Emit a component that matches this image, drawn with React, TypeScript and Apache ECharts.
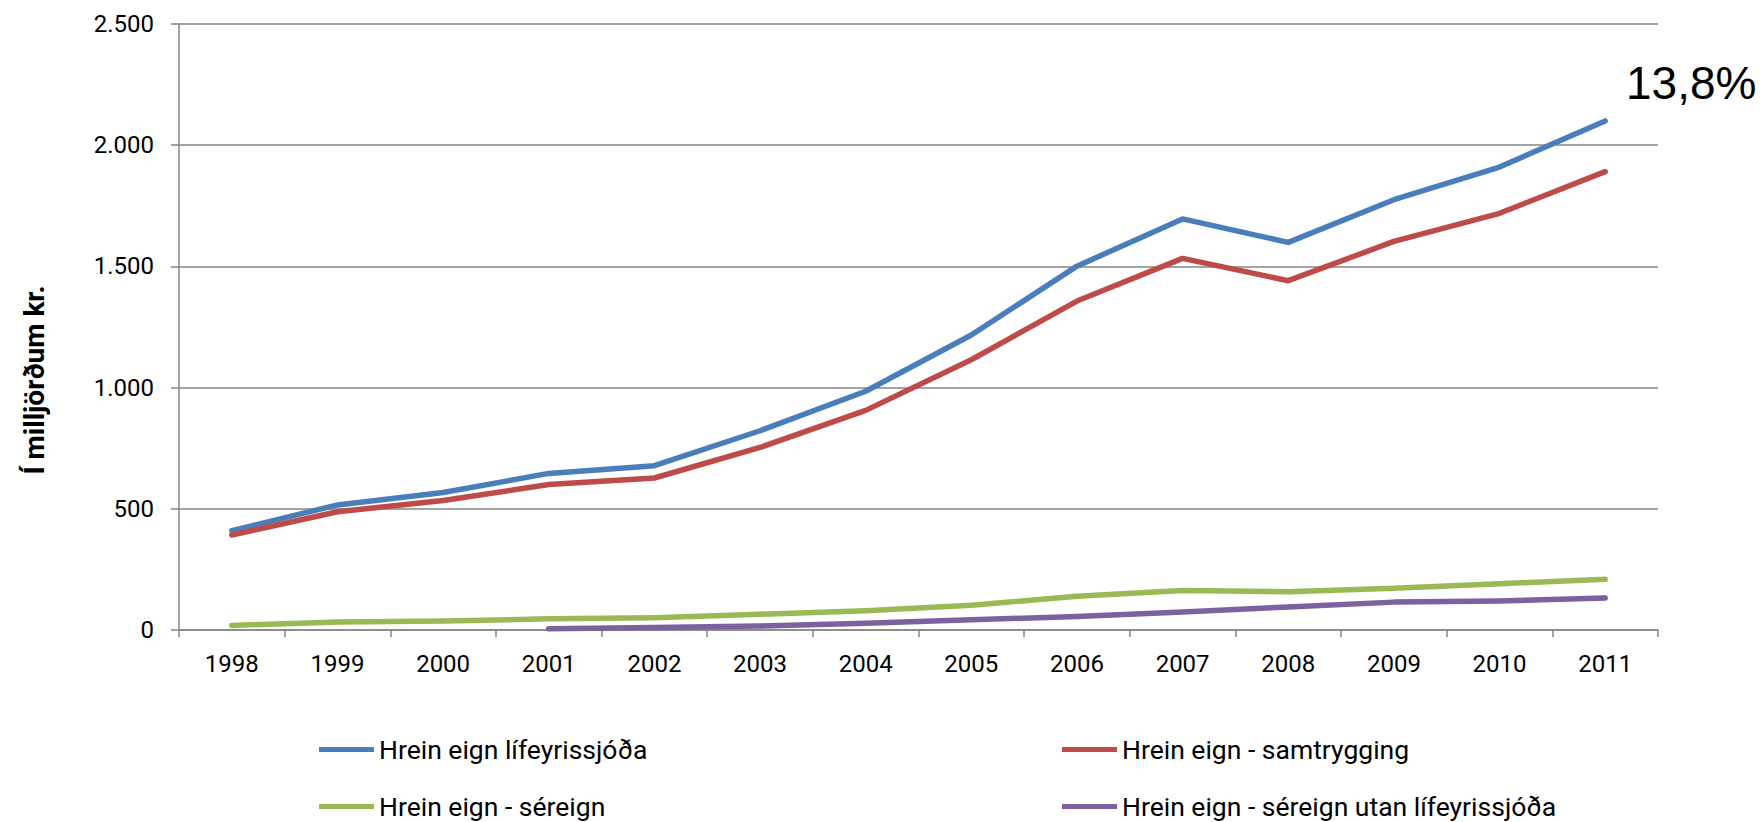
import React, { useEffect, useRef } from "react";
import * as echarts from "echarts";

const years = ["1998","1999","2000","2001","2002","2003","2004","2005","2006","2007","2008","2009","2010","2011"];
const seriesNames = [
  "Hrein eign lífeyrissjóða",
  "Hrein eign - samtrygging",
  "Hrein eign - séreign",
  "Hrein eign - séreign utan lífeyrissjóða",
];
const totalNet = [410, 516, 567, 646, 678, 822, 985, 1217, 1501, 1696, 1599, 1775, 1910, 2100];
const defined = [392, 488, 534, 600, 627, 753, 906, 1115, 1357, 1533, 1441, 1603, 1719, 1891];
const privatePens = [19, 33, 37, 46, 51, 65, 79, 102, 139, 163, 158, 172, 191, 209];
const privateOutside = [null, null, null, 5, 10, 16, 28, 42, 56, 74, 95, 115, 120, 132];
const colors = ["#4A7EBB", "#BE4B48", "#98B954", "#7D60A0"];
const yTicks = { min: 0, max: 2500, interval: 500 };
const annotation = "13,8%";
const yAxisName = "Í milljörðum kr.";

const fmt = (v: number) => String(v).replace(/\B(?=(\d{3})+(?!\d))/g, ".");

export default function App() {
  const ref = useRef<HTMLDivElement>(null);
  useEffect(() => {
    document.body.style.margin = "0";
    const chart = echarts.init(ref.current!, null, { renderer: "svg" });
    const font = "Roboto";
    const dataArr = [totalNet, defined, privatePens, privateOutside];
    const legendPos = [
      { left: 314, top: 731 },
      { left: 1057, top: 731 },
      { left: 314, top: 788 },
      { left: 1057, top: 788 },
    ];
    chart.setOption({
      animation: false,
      color: colors,
      grid: {
        left: 179,
        right: 106,
        top: 24,
        bottom: 192,
        containLabel: false,
        outerBoundsMode: "none",
      },
      xAxis: {
        type: "category",
        data: years,
        boundaryGap: true,
        axisLine: { lineStyle: { color: "#868686", width: 1.5 } },
        axisTick: { show: true, length: 7, lineStyle: { color: "#868686", width: 1.5 } },
        axisLabel: { color: "#000", fontFamily: font, fontSize: 24, margin: 22 },
        splitLine: { show: false },
      },
      yAxis: {
        type: "value",
        min: yTicks.min,
        max: yTicks.max,
        interval: yTicks.interval,
        axisLine: { show: true, lineStyle: { color: "#868686", width: 1.5 } },
        axisTick: { show: true, length: 8, lineStyle: { color: "#868686", width: 1.5 } },
        axisLabel: { color: "#000", fontFamily: font, fontSize: 24, margin: 25, formatter: fmt },
        splitLine: { lineStyle: { color: "#868686", width: 1.5 } },
      },
      legend: seriesNames.map((n, i) => ({
        data: [n],
        left: legendPos[i].left,
        top: legendPos[i].top,
        icon: "rect",
        itemWidth: 55,
        itemHeight: 5,
        itemGap: 4,
        textStyle: { color: "#000", fontFamily: font, fontSize: 26.5 },
        selectedMode: false,
      })),
      graphic: [
        {
          type: "text",
          left: 1626,
          top: 60,
          style: {
            text: annotation,
            font: "46px 'Liberation Sans', Arial, sans-serif",
            fill: "#000",
          },
        },
        {
          type: "text",
          x: 34,
          y: 380,
          rotation: Math.PI / 2,
          style: {
            text: yAxisName,
            font: `bold 28px ${font}`,
            fill: "#000",
            align: "center",
            verticalAlign: "middle",
          },
        },
      ],
      series: seriesNames.map((n, i) => ({
        name: n,
        type: "line",
        data: dataArr[i],
        showSymbol: false,
        symbol: "none",
        lineStyle: { width: 5.5, color: colors[i], cap: "round", join: "round" },
        itemStyle: { color: colors[i] },
        connectNulls: false,
      })),
    });
    return () => chart.dispose();
  }, []);
  return <div ref={ref} style={{ width: 1764, height: 822 }} />;
}
